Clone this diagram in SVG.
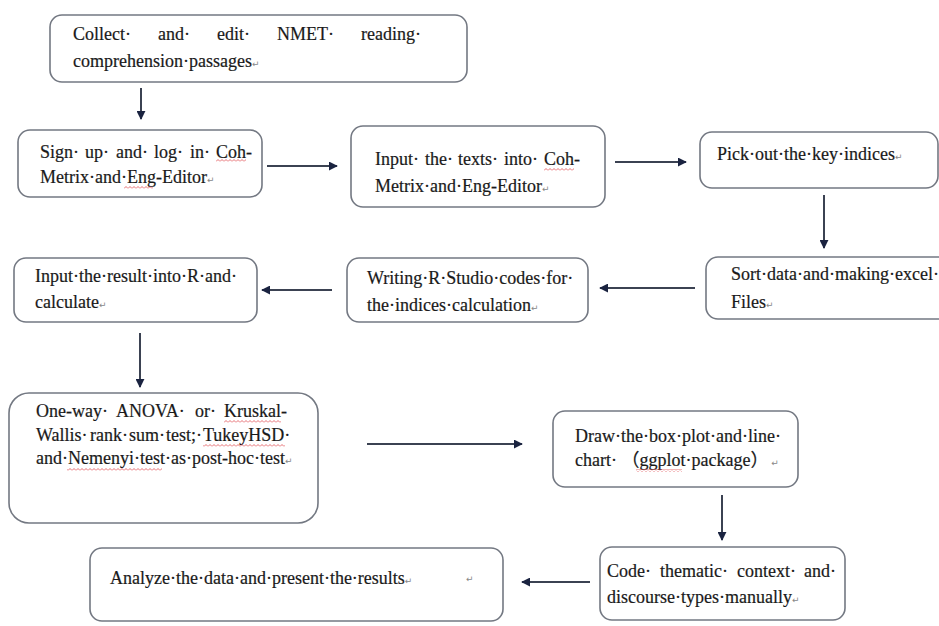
<svg xmlns="http://www.w3.org/2000/svg" width="939" height="626" viewBox="0 0 939 626">
<style>
.box{fill:#fff;stroke:#737882;stroke-width:1.6}
.t{font-family:"Liberation Serif","Noto Sans CJK SC",serif;font-size:18px;fill:#1a1a1a;stroke:#1a1a1a;stroke-width:0.2}
.ret{font-family:"DejaVu Sans",sans-serif;font-size:9px;fill:#888;stroke:none}
.con{stroke:#3b4252;stroke-width:2;fill:none;marker-end:url(#ah)}
.sq{fill:url(#wavy)}
</style>
<defs>
<marker id="ah" viewBox="0 0 10 10" refX="9" refY="5" markerUnits="userSpaceOnUse" markerWidth="9" markerHeight="9" orient="auto">
<path d="M0,0 L10,5 L0,10 z" fill="#1a2340"/>
</marker>
<pattern id="wavy" width="4" height="3" patternUnits="userSpaceOnUse">
<path d="M0,2.5 L2,0.5 L4,2.5" fill="none" stroke="#e0474c" stroke-width="0.8"/>
</pattern>
</defs>
<rect width="939" height="626" fill="#fff"/>

<g id="connectors">
<line class="con" x1="141" y1="88" x2="141" y2="119"/>
<line class="con" x1="267" y1="166" x2="337" y2="166"/>
<line class="con" x1="615" y1="162" x2="686" y2="162"/>
<line class="con" x1="824" y1="195" x2="824" y2="248"/>
<line class="con" x1="695" y1="288" x2="600" y2="288"/>
<line class="con" x1="332" y1="290" x2="262" y2="290"/>
<line class="con" x1="140" y1="333" x2="140" y2="387"/>
<line class="con" x1="367" y1="444" x2="522" y2="444"/>
<line class="con" x1="722" y1="495" x2="722" y2="540"/>
<line class="con" x1="590" y1="582" x2="522" y2="582"/>
</g>

<g id="n1">
<rect class="box" x="50" y="15" width="417" height="67" rx="12"/>
<text class="t" y="40"><tspan x="73">Collect·</tspan><tspan x="158">and·</tspan><tspan x="217">edit·</tspan><tspan x="277">NMET·</tspan><tspan x="361">reading·</tspan></text>
<text class="t" x="73" y="67">comprehension·passages<tspan class="ret">↵</tspan></text>
</g>

<g id="n2">
<rect class="box" x="18" y="130" width="244" height="67" rx="12"/>
<text class="t" y="158"><tspan x="40">Sign·</tspan><tspan x="85">up·</tspan><tspan x="116">and·</tspan><tspan x="154">log·</tspan><tspan x="190">in·</tspan><tspan x="216">Coh-</tspan></text>
<text class="t" x="40" y="183">Metrix·and·Eng-Editor<tspan class="ret">↵</tspan></text>
<rect class="sq" x="216" y="159" width="30" height="3"/>
<rect class="sq" x="124" y="186" width="29" height="3"/>
</g>

<g id="n3">
<rect class="box" x="351" y="126" width="254" height="81" rx="12"/>
<text class="t" y="165"><tspan x="375">Input·</tspan><tspan x="425">the·</tspan><tspan x="458">texts·</tspan><tspan x="504">into·</tspan><tspan x="544">Coh-</tspan></text>
<text class="t" x="375" y="192">Metrix·and·Eng-Editor<tspan class="ret">↵</tspan></text>
<rect class="sq" x="544" y="168" width="30" height="3"/>
</g>

<g id="n4">
<rect class="box" x="700" y="132" width="238" height="56" rx="12"/>
<text class="t" x="717" y="160">Pick·out·the·key·indices<tspan class="ret">↵</tspan></text>
</g>

<g id="n5">
<rect class="box" x="706" y="257" width="250" height="62" rx="12"/>
<text class="t" x="731" y="280">Sort·data·and·making·excel·</text>
<text class="t" x="731" y="308">Files<tspan class="ret">↵</tspan></text>
</g>

<g id="n6">
<rect class="box" x="347" y="258" width="241" height="64" rx="12"/>
<text class="t" x="367" y="284">Writing·R·Studio·codes·for·</text>
<text class="t" x="367" y="311">the·indices·calculation<tspan class="ret">↵</tspan></text>
</g>

<g id="n7">
<rect class="box" x="14" y="258" width="243" height="64" rx="12"/>
<text class="t" x="35" y="282">Input·the·result·into·R·and·</text>
<text class="t" x="35" y="308">calculate<tspan class="ret">↵</tspan></text>
</g>

<g id="n8">
<rect class="box" x="9" y="393" width="309" height="130" rx="20"/>
<text class="t" y="417"><tspan x="36">One-way·</tspan><tspan x="116">ANOVA·</tspan><tspan x="195">or·</tspan><tspan x="224">Kruskal-</tspan></text>
<text class="t" y="441"><tspan x="36">Wallis·</tspan><tspan x="90">rank·</tspan><tspan x="129">sum·</tspan><tspan x="166">test;·</tspan><tspan x="203">TukeyHSD·</tspan></text>
<text class="t" x="36" y="464">and·Nemenyi·test·as·post-hoc·test<tspan class="ret">↵</tspan></text>
<rect class="sq" x="224" y="420" width="57" height="3"/>
<rect class="sq" x="203" y="444" width="82" height="3"/>
<rect class="sq" x="67" y="468" width="95" height="3"/>
</g>

<g id="n9">
<rect class="box" x="553" y="411" width="245" height="76" rx="12"/>
<text class="t" x="575" y="442">Draw·the·box·plot·and·line·</text>
<text class="t" x="575" y="466">chart· （ggplot·package）<tspan class="ret"> ↵</tspan></text>
<rect class="sq" x="636" y="469" width="46" height="3"/>
</g>

<g id="n10">
<rect class="box" x="600" y="547" width="245" height="73" rx="12"/>
<text class="t" y="577"><tspan x="607">Code·</tspan><tspan x="660">thematic·</tspan><tspan x="737">context·</tspan><tspan x="804">and·</tspan></text>
<text class="t" x="607" y="603">discourse·types·manually<tspan class="ret">↵</tspan></text>
</g>

<g id="n11">
<rect class="box" x="90" y="548" width="413" height="73" rx="12"/>
<text class="t" x="110" y="584">Analyze·the·data·and·present·the·results<tspan class="ret">↵</tspan></text>
<text class="ret" x="466" y="582">↵</text>
</g>
</svg>
